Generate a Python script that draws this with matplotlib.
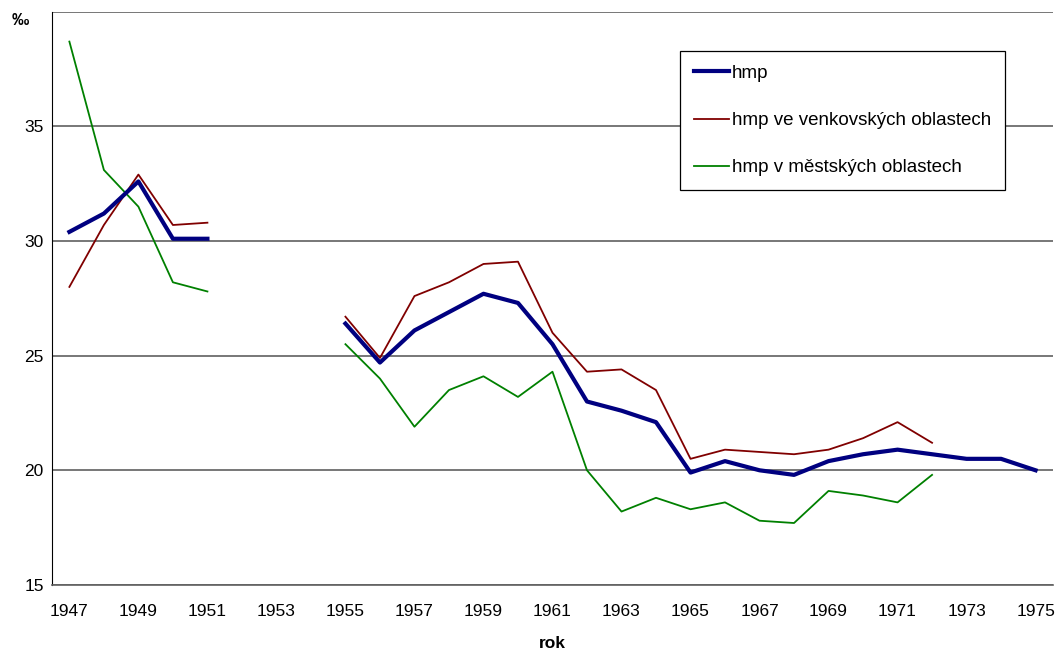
import numpy as np
import matplotlib.pyplot as plt

plt.rcParams['font.family'] = ['Liberation Sans', 'DejaVu Sans']

years = list(range(1947, 1976))
nan = np.nan

# hmp - total
hmp = [30.4, 31.2, 32.6, 30.1, 30.1, nan, nan, nan,
       26.4, 24.7, 26.1, 26.9, 27.7, 27.3, 25.5, 23.0, 22.6, 22.1,
       19.9, 20.4, 20.0, 19.8, 20.4, 20.7, 20.9, 20.7, 20.5, 20.5, 20.0]
# rural areas
hmp_rural = [28.0, 30.7, 32.9, 30.7, 30.8, nan, nan, nan,
             26.7, 24.9, 27.6, 28.2, 29.0, 29.1, 26.0, 24.3, 24.4, 23.5,
             20.5, 20.9, 20.8, 20.7, 20.9, 21.4, 22.1, 21.2, nan, nan, nan]
# urban areas
hmp_urban = [38.7, 33.1, 31.5, 28.2, 27.8, nan, nan, nan,
             25.5, 24.0, 21.9, 23.5, 24.1, 23.2, 24.3, 20.0, 18.2, 18.8,
             18.3, 18.6, 17.8, 17.7, 19.1, 18.9, 18.6, 19.8, nan, nan, nan]

labels = ['hmp', 'hmp ve venkovských oblastech', 'hmp v městských oblastech']

fig = plt.figure(figsize=(10.64, 6.55), dpi=100)
ax = fig.add_axes([0.049, 0.107, 0.9405, 0.875])

ax.plot(years, hmp, color='#000080', lw=3, label=labels[0], zorder=4)
ax.plot(years, hmp_rural, color='#800000', lw=1.3, label=labels[1], zorder=3)
ax.plot(years, hmp_urban, color='#008000', lw=1.3, label=labels[2], zorder=3)

ax.set_xlim(1946.5, 1975.5)
ax.set_ylim(15, 40)
ax.set_xticks(years[::2])
ax.set_yticks([15, 20, 25, 30, 35, 40])
ax.set_yticklabels(['15', '20', '25', '30', '35', ''])
ax.tick_params(length=0, labelsize=12.5, pad=6)
ax.tick_params(axis='x', pad=14)
ax.grid(axis='y', color='#606060', lw=1.2)
ax.set_axisbelow(True)

for s in ['top', 'right']:
    ax.spines[s].set_visible(False)
ax.spines['left'].set_color('black')
ax.spines['bottom'].set_color('#606060')
ax.spines['bottom'].set_linewidth(1.2)

ax.set_xlabel('rok', fontsize=12.5, fontweight='bold', labelpad=12)
fig.text(0.019, 0.968, '‰', fontsize=12.5, fontweight='bold', ha='center', va='center')

leg = ax.legend(loc='upper left', bbox_to_anchor=(0.627, 0.932), fontsize=13.5,
                frameon=True, fancybox=False, edgecolor='black', framealpha=1,
                handlelength=1.9, handletextpad=0.15, labelspacing=1.6,
                borderpad=0.75, borderaxespad=0)
leg.get_frame().set_linewidth(0.9)

fig.savefig('out.png', dpi=100)
